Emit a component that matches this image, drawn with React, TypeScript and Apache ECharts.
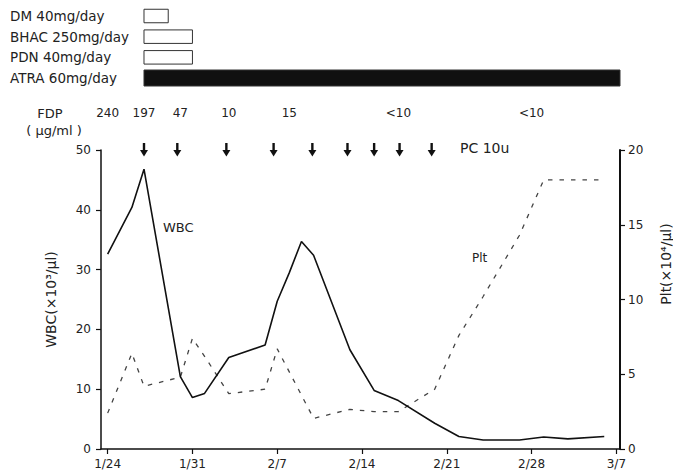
import React, { useEffect, useRef } from "react";
import * as echarts from "echarts";

// x positions are days counted from 1/24
const tickDays = [0, 7, 14, 21, 28, 35, 42];
const tickLabels = ["1/24", "1/31", "2/7", "2/14", "2/21", "2/28", "3/7"];

const wbcDays = [0, 2, 3, 6, 7, 8, 10, 13, 14, 15, 16, 17, 20, 22, 24, 27, 29, 31, 34, 36, 38, 41];
const wbcValues = [32.6, 40.4, 46.8, 12.1, 8.6, 9.3, 15.3, 17.4, 24.7, 29.5, 34.7, 32.4, 16.6, 9.8, 8.1, 4.3, 2.1, 1.5, 1.5, 2.0, 1.7, 2.1];

const pltDays = [0, 2, 3, 6, 7, 8, 10, 13, 14, 17, 20, 22, 24, 27, 29, 31, 34, 36, 41];
const pltValues = [2.4, 6.4, 4.2, 4.8, 7.4, 6.2, 3.7, 4.0, 6.7, 2.05, 2.65, 2.5, 2.5, 4.0, 7.6, 10.2, 14.3, 18.0, 18.0];

const treatmentNames = ["DM 40mg/day", "BHAC 250mg/day", "PDN 40mg/day", "ATRA 60mg/day"];
const treatmentStart = [3, 3, 3, 3];
const treatmentEnd = [5, 7, 7, 42.3];

const fdpDays = [0, 3, 6, 10, 15, 24, 35];
const fdpLabels = ["240", "197", "47", "10", "15", "<10", "<10"];

const pcDays = [3, 5.75, 9.8, 13.7, 16.9, 19.8, 22, 24.1, 26.75];

const X_MIN = -0.55;
const X_MAX = 42.3;
const FONT = "DejaVu Sans";
const INK = "#222222";

export default function App() {
  const ref = useRef<HTMLDivElement>(null);

  useEffect(() => {
    if (!ref.current) return;
    const chart = echarts.init(ref.current, null, { renderer: "svg" });

    const txt = (text: string, size: number, align: string, vAlign: string = "middle") => ({
      text,
      fill: INK,
      font: `${size}px "${FONT}"`,
      textAlign: align,
      align,
      textVerticalAlign: vAlign,
      verticalAlign: vAlign,
    });

    const option: any = {
      animation: false,
      backgroundColor: "#ffffff",
      textStyle: { fontFamily: FONT },
      grid: [
        { left: 101, right: 53, top: 150, bottom: 26 },
        { left: 101, right: 53, top: 5.67, height: 82.67 },
      ],
      xAxis: [
        {
          type: "value",
          gridIndex: 0,
          min: X_MIN,
          max: X_MAX,
          axisLine: { onZero: false, lineStyle: { color: "#111111", width: 1.5 } },
          axisTick: { show: true, customValues: tickDays, length: 5, lineStyle: { color: "#111111", width: 1.2 } },
          axisLabel: {
            customValues: tickDays,
            formatter: (v: number) => {
              const i = tickDays.indexOf(Math.round(v));
              return i >= 0 ? tickLabels[i] : "";
            },
            color: INK,
            fontSize: 12,
            fontFamily: FONT,
            margin: 9,
          },
          splitLine: { show: false },
        },
        { type: "value", gridIndex: 1, min: X_MIN, max: X_MAX, show: false },
      ],
      yAxis: [
        {
          type: "value",
          gridIndex: 0,
          min: 0,
          max: 50,
          interval: 10,
          name: "WBC(×10³/μl)",
          nameLocation: "middle",
          nameRotate: 90,
          nameGap: 43,
          nameTextStyle: { fontSize: 14, color: INK, fontFamily: FONT },
          axisLine: { show: true, onZero: false, lineStyle: { color: "#111111", width: 1.5 } },
          axisTick: { show: true, length: 5, lineStyle: { color: "#111111", width: 1.2 } },
          axisLabel: { margin: 10, color: INK, fontSize: 12, fontFamily: FONT },
          splitLine: { show: false },
        },
        {
          type: "value",
          gridIndex: 0,
          position: "right",
          min: 0,
          max: 20,
          interval: 5,
          axisLine: { show: true, onZero: false, lineStyle: { color: "#111111", width: 2 } },
          axisTick: { show: true, length: 5, lineStyle: { color: "#111111", width: 1.2 } },
          axisLabel: { margin: 8, color: INK, fontSize: 12, fontFamily: FONT },
          splitLine: { show: false },
        },
        {
          type: "category",
          gridIndex: 1,
          data: treatmentNames,
          inverse: true,
          axisLine: { show: false },
          axisTick: { show: false },
          axisLabel: { align: "left", margin: 91, fontSize: 13.5, color: INK, fontFamily: FONT },
          splitLine: { show: false },
        },
      ],
      series: [
        {
          name: "WBC",
          type: "line",
          xAxisIndex: 0,
          yAxisIndex: 0,
          data: wbcDays.map((d, i) => [d, wbcValues[i]]),
          symbol: "none",
          lineStyle: { color: "#111111", width: 1.6 },
          z: 5,
        },
        {
          name: "Plt",
          type: "line",
          xAxisIndex: 0,
          yAxisIndex: 1,
          data: pltDays.map((d, i) => [d, pltValues[i]]),
          symbol: "none",
          lineStyle: { color: "#444444", width: 1.3, type: [4.5, 7] },
          z: 4,
        },
        {
          name: "treatments",
          type: "custom",
          xAxisIndex: 1,
          yAxisIndex: 2,
          clip: false,
          encode: { x: [0, 1], y: 2 },
          data: treatmentNames.map((_, i) => [treatmentStart[i], treatmentEnd[i], i]),
          renderItem: (params: any, api: any) => {
            const row = api.value(2);
            const p0 = api.coord([api.value(0), row]);
            const p1 = api.coord([api.value(1), row]);
            const filled = params.dataIndex === treatmentNames.length - 1;
            const h = filled ? 16 : 13.5;
            return {
              type: "rect",
              shape: { x: p0[0], y: p0[1] - h / 2, width: p1[0] - p0[0], height: h },
              style: { fill: filled ? "#101010" : "#ffffff", stroke: "#333333", lineWidth: 1 },
            };
          },
        },
        {
          name: "FDP",
          type: "custom",
          xAxisIndex: 0,
          yAxisIndex: 0,
          clip: false,
          data: fdpDays.map((d, i) => [d, i]),
          renderItem: (params: any, api: any) => {
            const p = api.coord([api.value(0), 50]);
            return {
              type: "text",
              x: p[0],
              y: p[1] - 37,
              style: txt(fdpLabels[params.dataIndex], 12, "center"),
            };
          },
        },
        {
          name: "PC",
          type: "custom",
          xAxisIndex: 0,
          yAxisIndex: 0,
          clip: false,
          data: pcDays.map((d) => [d, 50]),
          renderItem: (params: any, api: any) => {
            const p = api.coord([api.value(0), 50]);
            const x = p[0];
            const y = p[1];
            return {
              type: "group",
              children: [
                { type: "rect", shape: { x: x - 1.2, y: y - 7, width: 2.4, height: 8 }, style: { fill: "#111111" } },
                { type: "polygon", shape: { points: [[x - 4, y], [x + 4, y], [x, y + 6.5]] }, style: { fill: "#111111" } },
              ],
            };
          },
        },
      ],
      graphic: [
        { type: "text", x: 50, y: 113, style: txt("FDP", 13, "center") },
        { type: "text", x: 54, y: 130, style: txt("( μg/ml )", 13, "center") },
        { type: "text", x: 460, y: 148, style: txt("PC 10u", 14, "left") },
        { type: "text", x: 163, y: 227, style: txt("WBC", 13, "left") },
        { type: "text", x: 472, y: 258, style: txt("Plt", 12, "left") },
        { type: "text", x: 666, y: 264, rotation: Math.PI / 2, style: txt("Plt(×10⁴/μl)", 14, "center") },
      ],
    };

    chart.setOption(option);
    return () => chart.dispose();
  }, []);

  return (
    <div
      ref={ref}
      style={{ position: "absolute", left: 0, top: 0, width: 673, height: 475 }}
    />
  );
}
